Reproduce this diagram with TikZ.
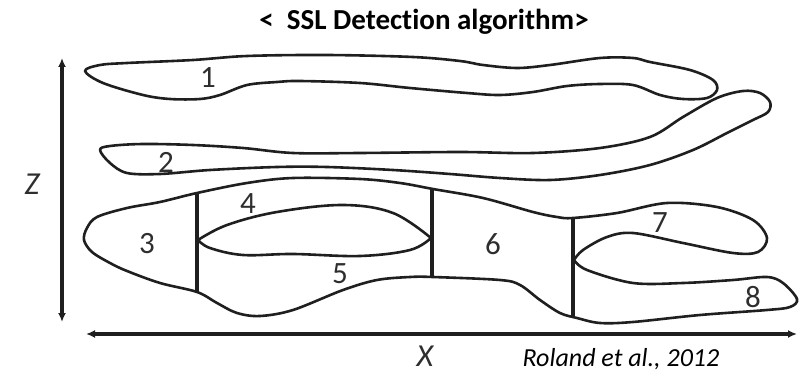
\documentclass[tikz,border=0pt]{standalone}
\usepackage{fontspec}
\setmainfont{Carlito}[Ligatures=NoCommon]
\usetikzlibrary{arrows.meta}
\begin{document}
\begin{tikzpicture}[x=1pt,y=-1pt,
  outline/.style={line width=2.6pt, line join=round, line cap=round, black!88},
  divider/.style={line width=3.4pt, black!88},
  axisline/.style={line width=3.2pt, black!88,
    {Latex[length=9pt,width=8pt]}-{Latex[length=9pt,width=8pt]}},
  region/.style={font=\fontsize{31}{31}\selectfont, text=black!82, inner sep=0pt},
  axislabel/.style={font=\fontsize{32}{32}\selectfont\itshape, text=black!82, inner sep=0pt},
]
\useasboundingbox (0,0) rectangle (801,377);

% title and citation
\node[anchor=base, inner sep=0pt, font=\fontsize{29}{29}\selectfont\bfseries] (title) at (424,30) {<\ \ SSL Detection algorithm>};
\node[anchor=base, inner sep=0pt, font=\fontsize{26}{26}\selectfont\itshape] (cite) at (621,366) {Roland et al., 2012};

% axes
\coordinate (ztop) at (62,58);
\coordinate (zbot) at (62,322);
\coordinate (xleft) at (86,334);
\coordinate (xright) at (797,334);
\draw[axisline] (zbot) -- (ztop);
\draw[axisline, line width=3.8pt] (xleft) -- (xright);
\node[axislabel] (zlab) at (32,184) {Z};
\node[axislabel] (xlab) at (425,356) {X};

% layer 1
\draw[outline] plot[smooth cycle, tension=0.55] coordinates {
  (85,71) (100,65) (127,63) (193,60) (247,56) (327,55) (413,57) (460,61)
  (483,65) (517,68) (550,65) (600,58) (633,58) (650,62) (690,70) (713,80)
  (717,90) (707,98) (683,99) (660,95) (633,85) (600,84) (567,86) (533,92)
  (500,95) (467,93) (410,88) (360,83) (300,81) (277,82) (247,85) (220,95)
  (200,99) (170,99) (143,95) (103,83)};

% layer 2
\draw[outline] plot[smooth cycle, tension=0.55] coordinates {
  (100,150) (110,146) (143,144) (193,145) (243,148) (293,153) (360,153)
  (460,152) (533,153) (600,148) (650,137) (683,117) (717,98) (743,91)
  (760,93) (770,102) (768,112) (753,120) (727,133) (693,150) (650,165)
  (600,175) (550,180) (500,178) (450,174) (393,170) (327,167) (277,167)
  (210,170) (160,174) (127,173) (110,163)};

% lower body (regions 3 to 8), pointed at the notch between 7 and 8
\draw[outline] plot[smooth, tension=0.55] coordinates {
  (574,260) (583,250) (607,237) (633,233) (683,243) (733,253) (758,252)
  (767,238) (753,220) (717,207) (667,203) (617,213) (573,218) (557,217)
  (533,212) (483,198) (433,189) (400,183) (360,179) (293,178) (247,183)
  (197,193) (160,202) (127,208) (97,217) (87,228) (84,240) (92,252)
  (110,263) (127,271) (160,283) (197,292) (217,303) (237,313) (260,316)
  (293,310) (343,290) (377,280) (410,277) (433,277) (500,280) (520,285)
  (540,300) (560,313) (577,318) (600,323) (633,322) (700,315) (767,310)
  (790,307) (797,299) (783,283) (767,277) (733,280) (683,283) (633,283)
  (587,270) (574,260)};

% lens between regions 4 and 5
\draw[outline] plot[smooth, tension=0.6] coordinates {
  (198,240) (227,225) (277,212) (343,205) (393,213) (431,238)}
  -- plot[smooth, tension=0.6] coordinates {
  (431,238) (410,250) (360,256) (293,254) (243,255) (210,248) (198,240)}
  -- cycle;

% dividers
\coordinate (d1t) at (197,193); \coordinate (d1b) at (197,292);
\coordinate (d2t) at (432,188); \coordinate (d2b) at (432,277);
\coordinate (d3t) at (573,218); \coordinate (d3b) at (573,318);
\draw[divider] (d1t) -- (d1b);
\draw[divider] (d2t) -- (d2b);
\draw[divider] (d3t) -- (d3b);

% region labels
\node[region] (r1) at (208,78) {1};
\node[region] (r2) at (166,162) {2};
\node[region] (r3) at (147,244) {3};
\node[region] (r4) at (248,204) {4};
\node[region] (r5) at (340,274) {5};
\node[region] (r6) at (493,244) {6};
\node[region] (r7) at (660,223) {7};
\node[region] (r8) at (753,297) {8};
\end{tikzpicture}
\end{document}
